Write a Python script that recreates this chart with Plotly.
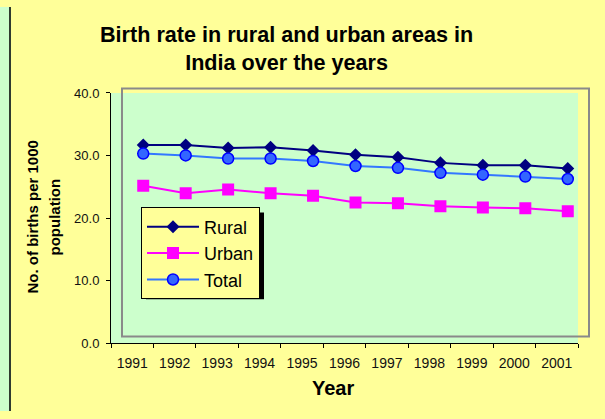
import plotly.graph_objects as go

# ---- data ----
years = ["1991", "1992", "1993", "1994", "1995", "1996", "1997", "1998", "1999", "2000", "2001"]
rural = [30.9, 30.9, 30.4, 30.5, 30.0, 29.3, 28.9, 28.0, 27.6, 27.6, 27.1]
urban = [24.3, 23.1, 23.7, 23.1, 22.7, 21.6, 21.5, 21.0, 20.8, 20.7, 20.2]
total = [29.5, 29.2, 28.7, 28.7, 28.3, 27.5, 27.2, 26.4, 26.1, 25.8, 25.4]
y_ticks = [0, 10, 20, 30, 40]

W, H = 605, 419
FONT = "Liberation Sans, Arial, sans-serif"

# vertical mapping observed in the captured page (screen y = A + B * figure y)
A, B = 7.4, 0.96


def px(x):
    return x / W


def py(y_screen):
    return 1 - ((y_screen - A) / B) / H


fig = go.Figure()

# invisible trace that carries the visible category axis
fig.add_trace(go.Scatter(x=years, y=total, mode="markers", marker=dict(opacity=0),
                         showlegend=False, hoverinfo="skip", xaxis="x", yaxis="y"))

fig.add_trace(go.Scatter(x=years, y=rural, name="Rural", mode="lines+markers",
                         line=dict(color="#000080", width=2),
                         marker=dict(symbol="diamond", size=10, color="#000080"),
                         xaxis="x2", yaxis="y2"))
fig.add_trace(go.Scatter(x=years, y=urban, name="Urban", mode="lines+markers",
                         line=dict(color="#ff00ff", width=2),
                         marker=dict(symbol="square", size=12, color="#ff00ff"),
                         xaxis="x2", yaxis="y2"))
fig.add_trace(go.Scatter(x=years, y=total, name="Total", mode="lines+markers",
                         line=dict(color="#3377ff", width=2),
                         marker=dict(symbol="circle", size=11, color="#3366ff",
                                     line=dict(color="#0000ff", width=1.5)),
                         xaxis="x2", yaxis="y2"))

xtickfont = dict(family=FONT, size=14, color="#111111")
ytickfont = dict(family=FONT, size=13, color="#111111")

shapes = [
    # left light-green strip and dark left border
    dict(type="rect", xref="paper", yref="paper", x0=0, x1=px(9), y0=0, y1=1,
         fillcolor="#ccffcc", line=dict(width=0), layer="below"),
    dict(type="line", xref="paper", yref="paper", x0=px(10), x1=px(10), y0=0, y1=1,
         line=dict(color="#2f3b30", width=2), layer="below"),
    # plot area background (light green)
    dict(type="rect", xref="paper", yref="paper", x0=px(111), x1=px(578), y0=py(342), y1=py(93),
         fillcolor="#ccffcc", line=dict(width=0), layer="below"),
    # gray plot frame
    dict(type="rect", xref="paper", yref="paper", x0=px(122), x1=px(589), y0=py(335.5), y1=py(88.5),
         line=dict(color="#8a8a8a", width=2), fillcolor="rgba(0,0,0,0)", layer="below"),
    # legend shadow
    dict(type="rect", xref="paper", yref="paper", x0=px(146), x1=px(264), y0=py(298.5), y1=py(212),
         fillcolor="#000000", line=dict(width=0), layer="below"),
]

annotations = [
    dict(text="<b>Birth rate in rural and urban areas in<br>India over the years</b>",
         x=px(286), y=py(48.5), xref="paper", yref="paper", xanchor="center", yanchor="middle",
         showarrow=False, font=dict(family=FONT, size=21.6, color="#000000")),
    dict(text="<b>Year</b>", x=px(333), y=py(387), xref="paper", yref="paper",
         xanchor="center", yanchor="middle", showarrow=False,
         font=dict(family=FONT, size=20, color="#000000")),
    dict(text="<b>No. of births per 1000</b>", x=px(33), y=py(217), xref="paper", yref="paper",
         xanchor="center", yanchor="middle", showarrow=False, textangle=-90,
         font=dict(family=FONT, size=15, color="#000000")),
    dict(text="<b>population</b>", x=px(55), y=py(217), xref="paper", yref="paper",
         xanchor="center", yanchor="middle", showarrow=False, textangle=-90,
         font=dict(family=FONT, size=15, color="#000000")),
]

fig.update_layout(
    width=W, height=H,
    margin=dict(l=0, r=0, t=0, b=0, pad=0),
    paper_bgcolor="#ffff99",
    plot_bgcolor="rgba(0,0,0,0)",
    font=dict(family=FONT, color="#000000"),
    showlegend=True,
    legend=dict(x=px(141), y=py(207), xanchor="left", yanchor="top",
                bgcolor="#ffff99", bordercolor="#000000", borderwidth=1,
                font=dict(family=FONT, size=18, color="#000000"),
                itemwidth=52, tracegroupgap=0),
    xaxis=dict(domain=[px(111), px(578)], type="category", categoryarray=years,
               range=[-0.5, 10.5], tickson="boundaries", ticks="outside", ticklen=4,
               tickcolor="#000000", showline=True, linecolor="#000000", linewidth=1,
               showgrid=False, zeroline=False, tickfont=xtickfont, ticklabelstandoff=7,
               anchor="y", fixedrange=True),
    yaxis=dict(domain=[py(342), py(93)], range=[0, 40], tickvals=y_ticks, tickformat=".1f",
               ticks="outside", ticklen=4, tickcolor="#000000", showline=True,
               linecolor="#000000", linewidth=1, showgrid=False, zeroline=False,
               tickfont=ytickfont, ticklabelstandoff=4, anchor="x", fixedrange=True),
    xaxis2=dict(domain=[px(122), px(589)], type="category", categoryarray=years,
                range=[-0.5, 10.5], visible=False, anchor="y2", fixedrange=True),
    yaxis2=dict(domain=[py(335.5), py(88.5)], range=[0, 40], visible=False,
                anchor="x2", fixedrange=True),
    shapes=shapes,
    annotations=annotations,
    hovermode=False,
)

bg = ("linear-gradient(#2f3b30, #2f3b30) 10px 1px / 100% 2px no-repeat fixed, "
      "linear-gradient(#c8c878, #c8c878) 11px 100% / 100% 1px no-repeat fixed, "
      "linear-gradient(to right, #ccffcc 0px, #ccffcc 9px, #2f3b30 9px, #2f3b30 11px, "
      "#ffff99 11px, #ffff99 100%) fixed")
post = (
    "document.documentElement.style.margin='0px';"
    "document.body.style.margin='0px';"
    "document.body.style.padding='0px';"
    "document.body.style.overflow='hidden';"
    "document.documentElement.style.background='" + bg + "';"
    "document.body.style.background='" + bg + "';"
    "var d=document.getElementsByClassName('plotly-graph-div')[0];"
    "d.style.position='fixed';d.style.top='0px';d.style.left='0px';"
)

fig.write_html("out.html", config={"displayModeBar": False}, post_script=post)
